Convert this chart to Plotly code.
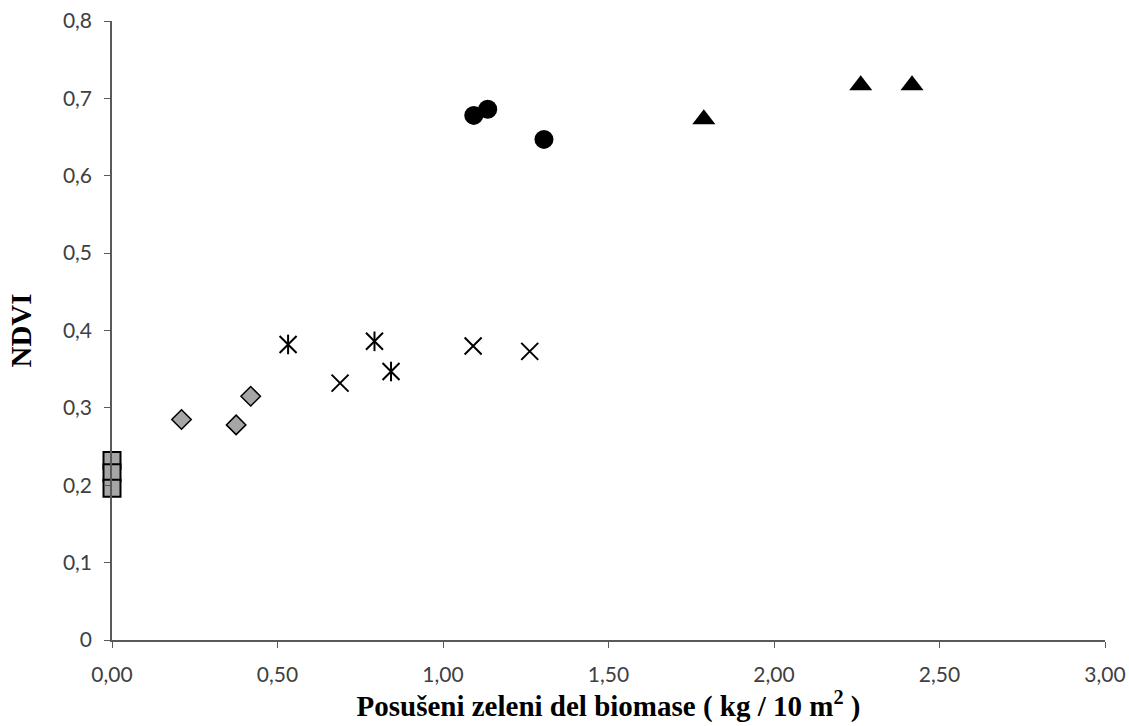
import plotly.graph_objects as go

# Data
sq_x = [0.0, 0.0, 0.0]
sq_y = [0.232, 0.216, 0.196]

dia_x = [0.21, 0.375, 0.419]
dia_y = [0.285, 0.278, 0.315]

ast_x = [0.532, 0.793, 0.843]
ast_y = [0.382, 0.386, 0.347]

xm_x = [0.689, 1.091, 1.262]
xm_y = [0.332, 0.380, 0.373]

cir_x = [1.093, 1.135, 1.305]
cir_y = [0.678, 0.686, 0.647]

tri_x = [1.788, 2.262, 2.417]
tri_y = [0.673, 0.717, 0.717]

x_ticks = [0, 0.5, 1.0, 1.5, 2.0, 2.5, 3.0]
y_ticks = [0, 0.1, 0.2, 0.3, 0.4, 0.5, 0.6, 0.7, 0.8]

GREY = "#a6a6a6"

fig = go.Figure()
fig.add_trace(go.Scatter(x=sq_x, y=sq_y, mode="markers", cliponaxis=False,
                         marker=dict(symbol="square", size=17, color=GREY,
                                     line=dict(color="black", width=2))))
fig.add_trace(go.Scatter(x=dia_x, y=dia_y, mode="markers", cliponaxis=False,
                         marker=dict(symbol="diamond", size=15, color=GREY,
                                     line=dict(color="black", width=1.5))))
fig.add_trace(go.Scatter(x=ast_x, y=ast_y, mode="markers",
                         marker=dict(symbol="x-thin", size=17,
                                     line=dict(color="black", width=2))))
fig.add_trace(go.Scatter(x=ast_x, y=ast_y, mode="markers",
                         marker=dict(symbol="line-ns", size=14,
                                     line=dict(color="black", width=2))))
fig.add_trace(go.Scatter(x=xm_x, y=xm_y, mode="markers",
                         marker=dict(symbol="x-thin", size=17,
                                     line=dict(color="black", width=2))))
fig.add_trace(go.Scatter(x=cir_x, y=cir_y, mode="markers",
                         marker=dict(symbol="circle", size=19, color="black",
                                     line=dict(width=0))))
fig.add_trace(go.Scatter(x=tri_x, y=tri_y, mode="markers",
                         marker=dict(symbol="triangle-up", size=20, color="black",
                                     line=dict(width=0))))

tickfont = dict(family="Lato, Open Sans, sans-serif", size=21, color="#404040")
titlefont = dict(family="Liberation Serif, serif", size=29, color="black")
fig.update_layout(
    width=1129, height=726,
    margin=dict(l=112, r=24, t=21, b=86),
    paper_bgcolor="white", plot_bgcolor="white",
    showlegend=False,
    separators=", ",
    xaxis=dict(range=[0, 3], tickvals=x_ticks, tickformat=".2f",
               showgrid=False, zeroline=False, showline=True,
               linecolor="#595959", linewidth=1.5, automargin=False,
               ticks="outside", ticklen=6, tickcolor="#595959",
               tickfont=tickfont, ticklabelstandoff=9,
               title=dict(text="<b>Posušeni zeleni del biomase ( kg / 10 m<sup>2</sup> )</b>",
                          font=titlefont, standoff=10)),
    yaxis=dict(range=[0, 0.8], tickvals=y_ticks,
               showgrid=False, zeroline=False, showline=True,
               linecolor="#595959", linewidth=1.5, automargin=False,
               ticks="outside", ticklen=6, tickcolor="#595959",
               tickfont=tickfont, ticklabelstandoff=8,
               title=dict(text="<b>NDVI</b>", font=titlefont, standoff=23)),
)

fig.write_html("out.html")
